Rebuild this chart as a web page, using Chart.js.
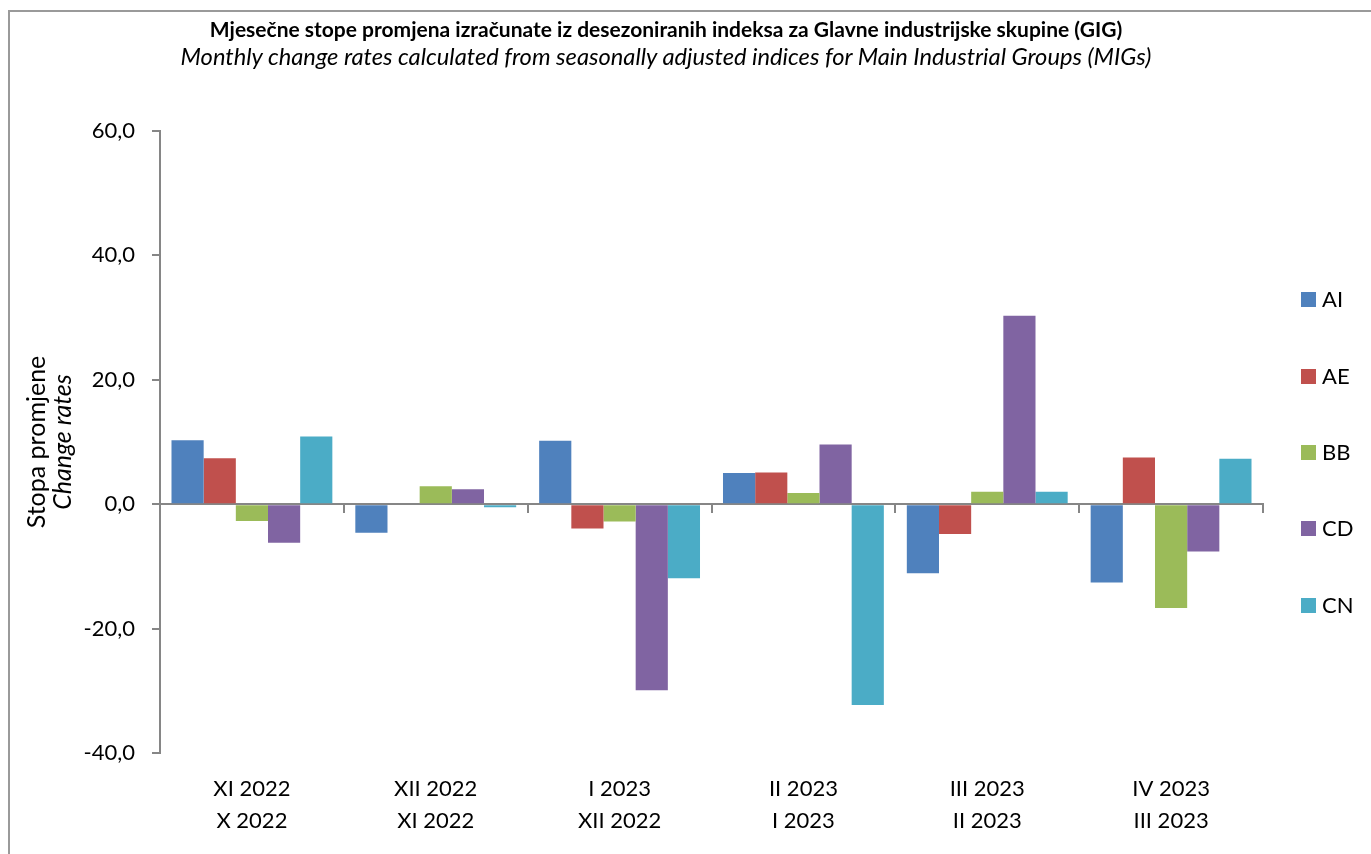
<!DOCTYPE html>
<html>
<head>
<meta charset="utf-8">
<script src="https://cdn.jsdelivr.net/npm/chart.js@4.4.1/dist/chart.umd.min.js"></script>
<style>
  html, body { margin: 0; padding: 0; background: #fff; }
  #wrap { position: relative; width: 1371px; height: 854px; overflow: hidden; }
  #frame { position: absolute; left: 8px; top: 10px; width: 1400px; height: 900px;
           border-left: 2px solid #9a9a9a; border-top: 2px solid #9a9a9a; box-sizing: border-box; }
  canvas { position: absolute; left: 0; top: 0; }
  .ttl { position: absolute; left: 666px; font-family: Lato, sans-serif; color: #000; white-space: nowrap;
         transform: translate(-50%, -50%); line-height: 1; }
  .ytitle { position: absolute; font-family: Lato, sans-serif; font-size: 25px; color: #000;
            white-space: nowrap; transform: translate(-50%, -50%) rotate(-90deg); line-height: 1; }
  .leg { position: absolute; font-family: Lato, sans-serif; font-size: 22px; color: #000; line-height: 1; }
  .leg span.box { position: absolute; width: 15px; height: 15px; left: 0; top: 50%; margin-top: -7px; }
  .leg span.txt { position: absolute; left: 21px; top: 50%; transform: translateY(-50%); white-space: nowrap; }
</style>
</head>
<body>
<div id="wrap">
  <div id="frame"></div>
  <canvas id="c" width="1371" height="854"></canvas>
  <div class="ttl" id="title" style="top:28px; font-size:21px; font-weight:bold;"></div>
  <div class="ttl" id="subtitle" style="top:57px; font-size:23.7px; font-style:italic;"></div>
  <div class="ytitle" id="ytitle1" style="left:35px; top:442px;"></div>
  <div class="ytitle" id="ytitle2" style="left:61px; top:442px; font-style:italic;"></div>
  <div id="legend"></div>
</div>
<script>
// ---- data ----
const periodTop = ['XI 2022', 'XII 2022', 'I 2023', 'II 2023', 'III 2023', 'IV 2023'];
const periodBottom = ['X 2022', 'XI 2022', 'XII 2022', 'I 2023', 'II 2023', 'III 2023'];
const seriesNames = ['AI', 'AE', 'BB', 'CD', 'CN'];
const AI = [10.3, -4.6, 10.2, 5.0, -11.1, -12.6];
const AE = [7.4, 0.0, -3.9, 5.1, -4.8, 7.5];
const BB = [-2.7, 2.9, -2.8, 1.8, 2.0, -16.7];
const CD = [-6.2, 2.4, -29.9, 9.6, 30.3, -7.6];
const CN = [10.9, -0.5, -11.9, -32.3, 2.0, 7.3];
const yTicks = [-40, -20, 0, 20, 40, 60];
const titleText = 'Mjesečne stope promjena izračunate iz desezoniranih indeksa za Glavne industrijske skupine (GIG)';
const subtitleText = 'Monthly change rates calculated from seasonally adjusted indices for Main Industrial Groups (MIGs)';
const yTitleLines = ['Stopa promjene', 'Change rates'];

const colors = ['#4F81BD', '#C0504D', '#9BBB59', '#8064A2', '#4BACC6'];
const seriesValues = [AI, AE, BB, CD, CN];
const categories = periodTop.map((t, i) => [t, periodBottom[i]]);

document.getElementById('title').textContent = titleText;
document.getElementById('subtitle').textContent = subtitleText;
document.getElementById('ytitle1').textContent = yTitleLines[0];
document.getElementById('ytitle2').textContent = yTitleLines[1];

const datasets = seriesNames.map((name, i) => ({
  label: name,
  data: seriesValues[i],
  backgroundColor: colors[i],
  borderWidth: 0,
  categoryPercentage: 0.875,
  barPercentage: 1.0,
  xAxisID: 'x',
  yAxisID: 'y'
}));

// HTML legend
const legendY = [299, 376, 452, 528, 605];
const legEl = document.getElementById('legend');
seriesNames.forEach((n, i) => {
  const d = document.createElement('div');
  d.className = 'leg';
  d.style.left = '1301px';
  d.style.top = (legendY[i] - 12) + 'px';
  d.style.height = '24px';
  d.style.width = '70px';
  d.innerHTML = '<span class="box" style="background:' + colors[i] + '"></span><span class="txt">' + n + '</span>';
  legEl.appendChild(d);
});

const axisGray = '#868686';

new Chart(document.getElementById('c'), {
  type: 'bar',
  data: { labels: categories, datasets },
  options: {
    responsive: false,
    animation: false,
    layout: { padding: { left: 0, right: 108, top: 131, bottom: 0 } },
    plugins: {
      legend: { display: false },
      tooltip: { enabled: false },
      title: { display: false },
      subtitle: { display: false }
    },
    scales: {
      x: {
        type: 'category',
        position: 'bottom',
        offset: true,
        grid: { display: false, drawTicks: false },
        border: { display: false },
        ticks: { color: '#000', font: { family: 'Lato', size: 22, lineHeight: '32px' }, padding: 20, maxRotation: 0, autoSkip: false },
        afterFit: (s) => { s.height = 101; }
      },
      x0: {
        type: 'category',
        axis: 'x',
        labels: categories,
        position: { y: 0 },
        offset: true,
        z: 1,
        ticks: { display: false },
        grid: { drawOnChartArea: false, drawTicks: true, tickLength: 8, offset: true, color: axisGray, lineWidth: 2 },
        border: { display: true, color: axisGray, width: 2 }
      },
      y: {
        min: -40, max: 60,
        afterBuildTicks: (s) => { s.ticks = yTicks.map(v => ({ value: v })); },
        grid: { drawOnChartArea: false, drawTicks: true, tickLength: 8, color: axisGray, lineWidth: 2 },
        border: { display: true, color: axisGray, width: 2 },
        ticks: {
          color: '#000', padding: 17,
          font: { family: 'Lato', size: 22 },
          callback: (v) => v.toFixed(1).replace('.', ',')
        },
        afterFit: (s) => { s.width = 160; }
      }
    }
  }
});
</script>
</body>
</html>
